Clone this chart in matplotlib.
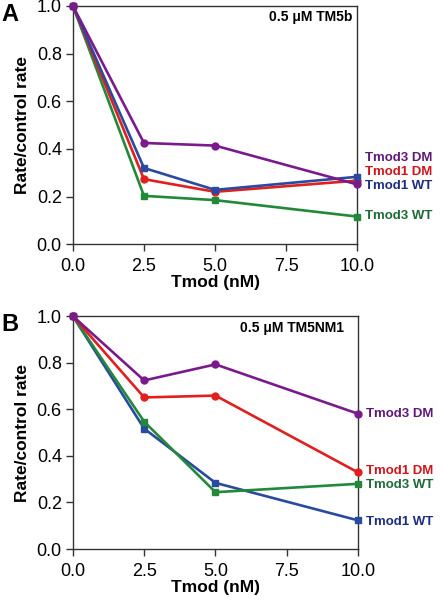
import matplotlib.pyplot as plt

plt.rcParams['font.family'] = ['Liberation Sans', 'DejaVu Sans']

tmod = [0, 2.5, 5, 10]
series = ["Tmod3 DM", "Tmod1 DM", "Tmod1 WT", "Tmod3 WT"]

# panel A: 0.5 uM TM5b
a_tmod3_dm = [1.0, 0.425, 0.414, 0.251]
a_tmod1_dm = [1.0, 0.273, 0.220, 0.267]
a_tmod1_wt = [1.0, 0.320, 0.228, 0.283]
a_tmod3_wt = [1.0, 0.203, 0.185, 0.116]

# panel B: 0.5 uM TM5NM1
b_tmod3_dm = [1.0, 0.724, 0.793, 0.581]
b_tmod1_dm = [1.0, 0.651, 0.659, 0.329]
b_tmod1_wt = [1.0, 0.517, 0.284, 0.123]
b_tmod3_wt = [1.0, 0.547, 0.244, 0.280]

line_colors = {"Tmod3 DM": "#7a1a8c", "Tmod1 DM": "#e0201e",
               "Tmod1 WT": "#2a4aa0", "Tmod3 WT": "#23893a"}
text_colors = {"Tmod3 DM": "#5e1878", "Tmod1 DM": "#d0141c",
               "Tmod1 WT": "#1c2c80", "Tmod3 WT": "#1d6a38"}
markers = {"Tmod3 DM": "o", "Tmod1 DM": "o", "Tmod1 WT": "s", "Tmod3 WT": "s"}

fig = plt.figure(figsize=(4.42, 6.0), dpi=100)
ax_a = fig.add_axes([0.165, 0.593, 0.643, 0.397])
ax_b = fig.add_axes([0.165, 0.085, 0.645, 0.388])

panels = [
    (ax_a, "A", "0.5 \u03bcM TM5b", (0.985, 0.955),
     {"Tmod3 WT": a_tmod3_wt, "Tmod1 DM": a_tmod1_dm, "Tmod1 WT": a_tmod1_wt, "Tmod3 DM": a_tmod3_dm},
     {"Tmod3 DM": 0.360, "Tmod1 DM": 0.302, "Tmod1 WT": 0.244, "Tmod3 WT": 0.117}),
    (ax_b, "B", "0.5 \u03bcM TM5NM1", (0.95, 0.948),
     {"Tmod1 WT": b_tmod1_wt, "Tmod3 WT": b_tmod3_wt, "Tmod1 DM": b_tmod1_dm, "Tmod3 DM": b_tmod3_dm},
     {"Tmod3 DM": 0.579, "Tmod1 DM": 0.336, "Tmod3 WT": 0.274, "Tmod1 WT": 0.116}),
]

for ax, letter, title, title_xy, data, label_y in panels:
    for name, vals in data.items():
        ax.plot(tmod, vals, color=line_colors[name], lw=1.9, marker=markers[name],
                ms=5, clip_on=False, zorder=3)
    for name in series:
        ax.text(1.028, label_y[name], name, transform=ax.get_yaxis_transform(),
                color=text_colors[name], fontsize=9.5, fontweight='bold',
                va='center', ha='left')
    ax.set_xlim(0, 10)
    ax.set_ylim(0, 1)
    ax.set_xticks([0, 2.5, 5, 7.5, 10])
    ax.set_xticklabels(["0.0", "2.5", "5.0", "7.5", "10.0"])
    ax.set_yticks([0, 0.2, 0.4, 0.6, 0.8, 1.0])
    ax.set_yticklabels(["0.0", "0.2", "0.4", "0.6", "0.8", "1.0"])
    ax.tick_params(direction='out', length=5, width=1, labelsize=13, color='#333333', pad=3)
    ax.tick_params(axis='x', pad=5)
    for s in ax.spines.values():
        s.set_linewidth(1)
        s.set_color('#333333')
    ax.set_xlabel("Tmod (nM)", fontsize=12.5, fontweight='bold', labelpad=0)
    ax.set_ylabel("Rate/control rate", fontsize=12.5, fontweight='bold', labelpad=5)
    ax.text(title_xy[0], title_xy[1], title, transform=ax.transAxes, ha='right', va='center',
            fontsize=10, fontweight='bold')
    fig.text(0.003, ax.get_position().y1 - 0.014, letter, fontsize=17, fontweight='bold',
             ha='left', va='center')

fig.savefig("out.png", dpi=100)
